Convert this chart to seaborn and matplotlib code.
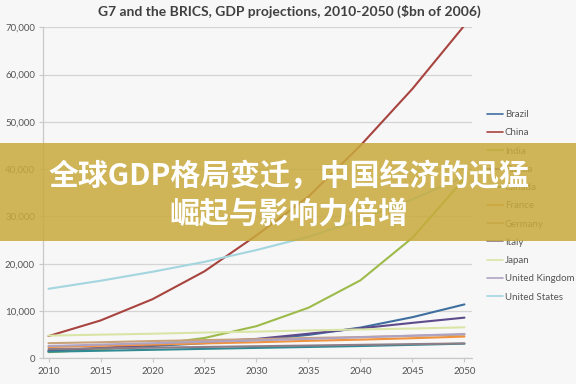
import matplotlib
matplotlib.use("Agg")
import matplotlib.pyplot as plt
import pandas as pd
import seaborn as sns
from matplotlib.ticker import FuncFormatter, FixedLocator
from matplotlib.patches import Rectangle

# ---------------- data ($bn of 2006) ----------------
years = [2010, 2015, 2020, 2025, 2030, 2035, 2040, 2045, 2050]
countries = ["Brazil", "China", "India", "Russia", "Canada", "France",
             "Germany", "Italy", "Japan", "United Kingdom", "United States"]

brazil = [1500, 2000, 2600, 3200, 3900, 4950, 6500, 8700, 11400]
china = [4700, 8000, 12500, 18400, 26000, 34200, 45000, 57000, 70400]
india = [1300, 1900, 2900, 4300, 6800, 10700, 16500, 25500, 38000]
russia = [1600, 2200, 2800, 3500, 4100, 5200, 6350, 7500, 8600]
canada = [1400, 1600, 1800, 2000, 2200, 2400, 2600, 2850, 3100]
france = [2400, 2650, 2900, 3150, 3400, 3700, 3950, 4250, 4600]
germany = [3200, 3400, 3650, 3850, 4050, 4300, 4500, 4750, 5000]
italy = [1950, 2100, 2250, 2400, 2550, 2700, 2850, 3000, 3150]
japan = [4800, 5000, 5200, 5450, 5650, 5900, 6100, 6300, 6550]
uk = [2600, 2900, 3200, 3500, 3800, 4100, 4450, 4800, 5150]
usa = [14700, 16400, 18300, 20400, 22900, 25700, 29300, 33600, 38500]

y_ticks = [0, 10000, 20000, 30000, 40000, 50000, 60000, 70000]
x_ticks = [2010, 2015, 2020, 2025, 2030, 2035, 2040, 2045, 2050]

title = "G7 and the BRICS, GDP projections, 2010-2050 ($bn of 2006)"
banner_lines = ["全球GDP格局变迁，中国经济的迅猛", "崛起与影响力倍增"]

series = [brazil, china, india, russia, canada, france, germany, italy, japan, uk, usa]
rows = []
for name, vals in zip(countries, series):
    for yr, v in zip(years, vals):
        rows.append({"Year": yr, "GDP": v, "Country": name})
df = pd.DataFrame(rows)

palette = {
    "Brazil": "#3F6F9F",
    "China": "#A8443F",
    "India": "#9DBB4A",
    "Russia": "#5E4B8C",
    "Canada": "#2F8A94",
    "France": "#F0923E",
    "Germany": "#C9A27A",
    "Italy": "#8E7C86",
    "Japan": "#D9E5A6",
    "United Kingdom": "#AFA3C4",
    "United States": "#A3D6DF",
}

# ---------------- figure ----------------
sns.set_theme(style="white")
plt.rcParams["font.family"] = ["Lato", "DejaVu Sans"]

bg = "#F7F7F7"
fig = plt.figure(figsize=(5.76, 3.84), dpi=100, facecolor=bg)
ax = fig.add_axes([0.0752, 0.0669, 0.819 - 0.0752, 0.9289 - 0.0669])
ax.set_facecolor(bg)

sns.lineplot(data=df, x="Year", y="GDP", hue="Country", hue_order=countries,
             palette=palette, linewidth=1.5, ax=ax, legend=True)

ax.set_xlim(2009.5, 2050.7)
ax.set_ylim(0, 70000)
ax.yaxis.set_major_locator(FixedLocator(y_ticks))
ax.xaxis.set_major_locator(FixedLocator(x_ticks))
ax.yaxis.set_major_formatter(FuncFormatter(lambda v, p: f"{int(v):,}"))
ax.set_xlabel("")
ax.set_ylabel("")
ax.grid(axis="y", color="#D4D4D4", linewidth=0.9)
ax.grid(axis="x", visible=False)
for s in ["top", "right"]:
    ax.spines[s].set_visible(False)
for s in ["left", "bottom"]:
    ax.spines[s].set_color("#C8C8C8")
    ax.spines[s].set_linewidth(0.9)
ax.tick_params(axis="both", which="major", length=3, width=0.8, color="#C8C8C8",
               labelsize=7, labelcolor="#555555", pad=3, left=True, bottom=True)
ax.set_axisbelow(True)

handles, labels = ax.get_legend_handles_labels()
ax.get_legend().remove()
leg = fig.legend(handles, labels, loc="upper left", bbox_to_anchor=(0.845, 0.713),
                 bbox_transform=fig.transFigure, frameon=False, fontsize=7,
                 handlelength=1.7, handletextpad=0.15, labelspacing=0.95,
                 borderaxespad=0, borderpad=0)
for t in leg.get_texts():
    t.set_color("#555555")
for h in leg.legend_handles:
    h.set_linewidth(1.2)

fig.text(0.503, 0.971, title, ha="center", va="center", fontsize=10,
         fontweight="bold", color="#404040")

# translucent banner with headline
fig.patches.append(Rectangle((0, 0.3724), 1, 0.2552, transform=fig.transFigure,
                             facecolor="#C8AA3C", alpha=0.85, edgecolor="none", zorder=10))
fig.text(0.502, 0.541, banner_lines[0], ha="center", va="center", fontsize=21.5,
         fontweight="bold", color="white", family=["Noto Sans CJK SC", "DejaVu Sans"], zorder=11)
fig.text(0.502, 0.441, banner_lines[1], ha="center", va="center", fontsize=21.5,
         fontweight="bold", color="white", family=["Noto Sans CJK SC", "DejaVu Sans"], zorder=11)

fig.savefig("out.png", dpi=100, facecolor=bg)
